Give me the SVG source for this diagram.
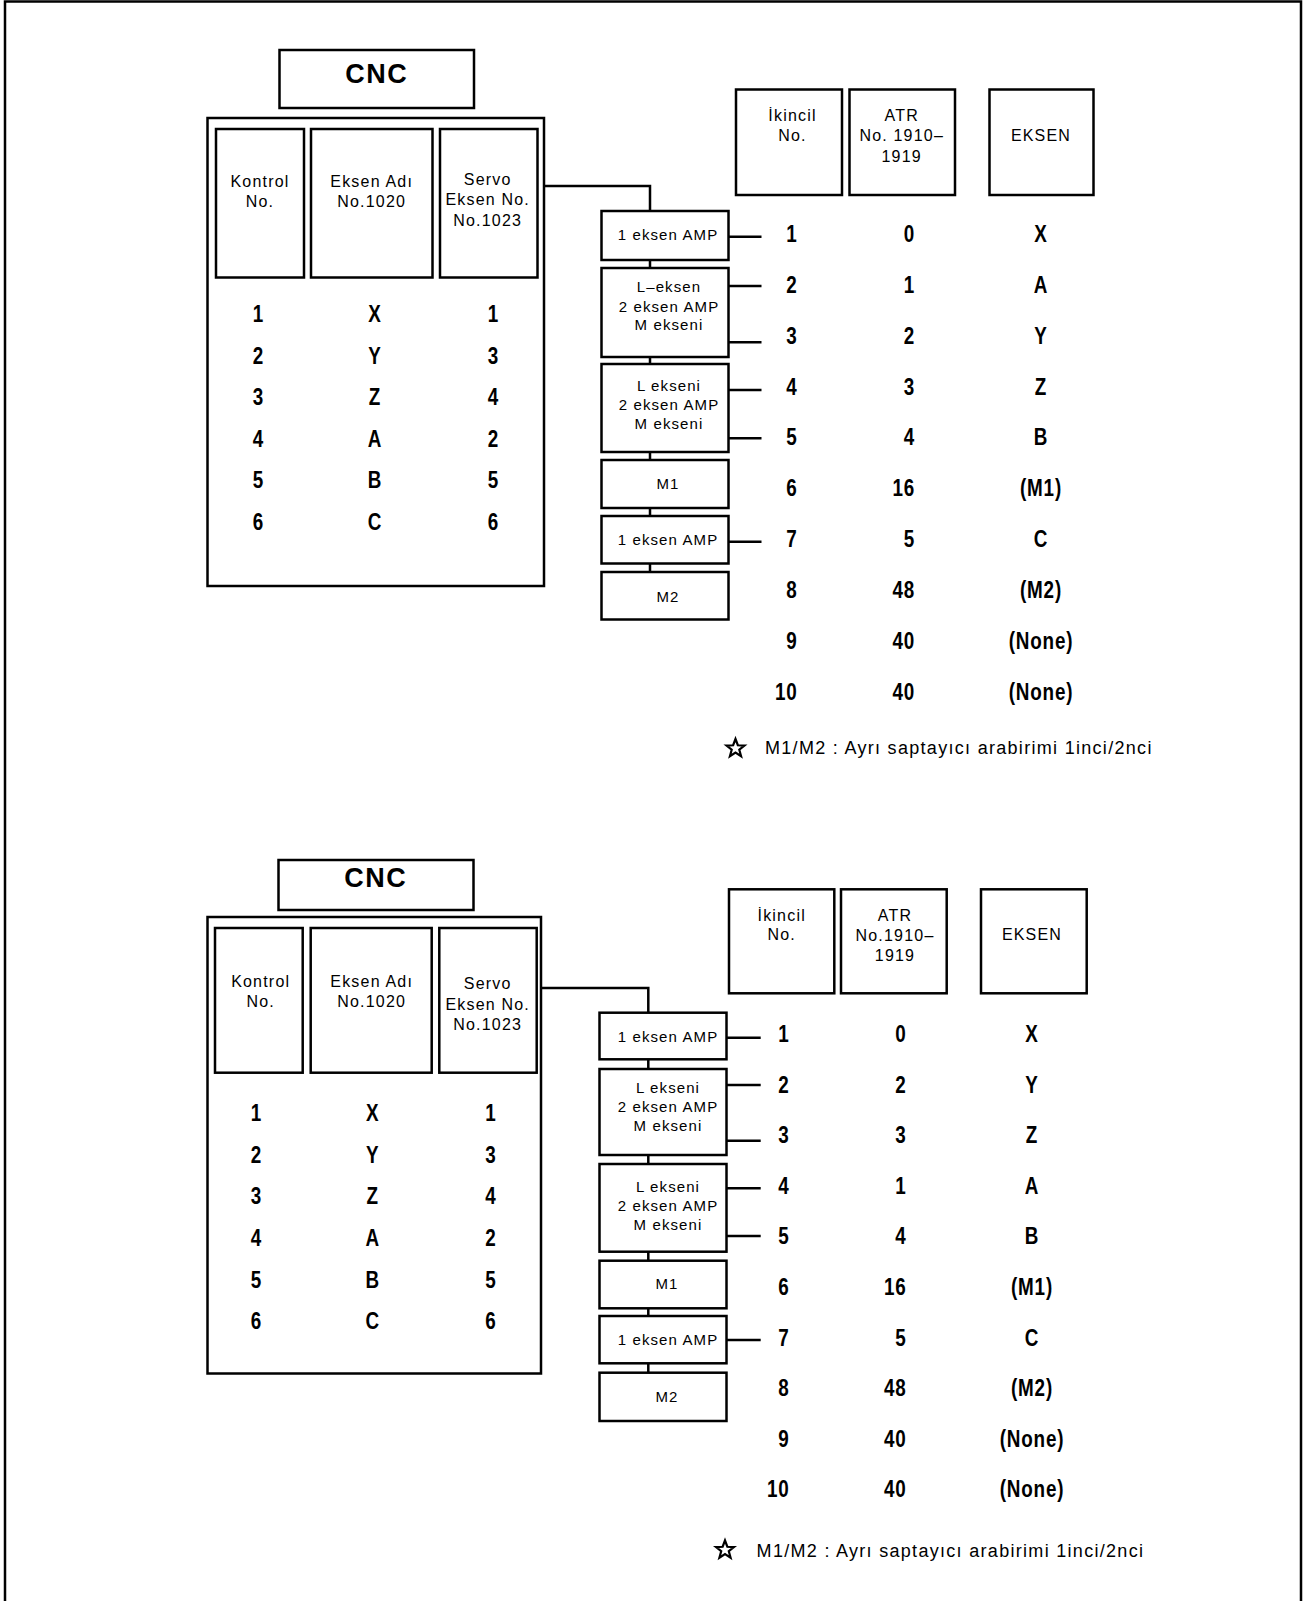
<svg xmlns="http://www.w3.org/2000/svg" xmlns:xlink="http://www.w3.org/1999/xlink" width="1306" height="1601" viewBox="0 0 1306 1601">
  <style>
    .box { fill: #fff; stroke: #000; stroke-width: 2.5; }
    .wire { fill: none; stroke: #000; stroke-width: 2.5; }
    .cnc { font-family: "Liberation Sans", Arial, sans-serif; font-size: 27px; font-weight: bold; letter-spacing: 1.5px; text-anchor: middle; }
    .hdr { font-family: "Liberation Sans", Arial, sans-serif; font-size: 16px; letter-spacing: 1.2px; text-anchor: middle; }
    .amp { font-family: "Liberation Sans", Arial, sans-serif; font-size: 15px; letter-spacing: 1.1px; text-anchor: middle; }
    /* value columns: bold sans, squeezed horizontally by the column transform */
    .val { font-family: "Liberation Sans", Arial, sans-serif; font-size: 23px; font-weight: bold; letter-spacing: 1px; }
    .mid { text-anchor: middle; }
    .end { text-anchor: end; }
    .note { font-family: "Liberation Sans", Arial, sans-serif; font-size: 18px; letter-spacing: 1.3px; }
  </style>
  <defs>
    <polygon id="star" points="0,-9.5 2.35,-3.24 9.04,-2.94 3.8,1.24 5.58,7.69 0,4 -5.58,7.69 -3.8,1.24 -9.04,-2.94 -2.35,-3.24" fill="none" stroke="#000" stroke-width="2.2"/>
  </defs>

  <rect width="1306" height="1601" fill="#fff"/>
  <!-- page frame (open at the bottom) -->
  <path class="wire" d="M5 1601 V1.5 H1301 V1601"/>

  <!-- ===================== upper configuration ===================== -->
  <g id="connectors-top">
    <path class="wire" d="M544 186 H650 V211"/>
    <path class="wire" d="M650 260 V268 M650 357 V364 M650 452 V460 M650 508 V516 M650 563 V572"/>
    <path class="wire" d="M728.5 236.7 H761.5 M728.5 286 H761.5 M728.5 342.3 H761.5 M728.5 390 H761.5 M728.5 438.3 H761.5 M728.5 541.7 H761.5"/>
  </g>

  <g id="cnc-top">
    <rect class="box" x="279.5" y="50" width="194.5" height="58"/>
    <text class="cnc" x="376.7" y="82.5">CNC</text>
  </g>

  <g id="cnc-table-top">
    <rect class="box" x="207.5" y="118" width="336.5" height="468"/>
    <rect class="box" x="216" y="129" width="88" height="148.5"/>
    <rect class="box" x="311" y="129" width="121.5" height="148.5"/>
    <rect class="box" x="440" y="129" width="97.5" height="148.5"/>
    <text class="hdr" x="260" y="186.7">Kontrol</text>
    <text class="hdr" x="260" y="206.7">No.</text>
    <text class="hdr" x="371.7" y="186.7">Eksen Adı</text>
    <text class="hdr" x="371.7" y="206.7">No.1020</text>
    <text class="hdr" x="487.7" y="184.5">Servo</text>
    <text class="hdr" x="487.7" y="205.3">Eksen No.</text>
    <text class="hdr" x="487.7" y="226">No.1023</text>
    <g class="val mid" transform="translate(258.5 0) scale(0.82 1)">
      <text y="322">1</text><text y="363.6">2</text><text y="405.2">3</text>
      <text y="446.8">4</text><text y="488.4">5</text><text y="530">6</text>
    </g>
    <g class="val mid" transform="translate(375 0) scale(0.82 1)">
      <text y="322">X</text><text y="363.6">Y</text><text y="405.2">Z</text>
      <text y="446.8">A</text><text y="488.4">B</text><text y="530">C</text>
    </g>
    <g class="val mid" transform="translate(493.5 0) scale(0.82 1)">
      <text y="322">1</text><text y="363.6">3</text><text y="405.2">4</text>
      <text y="446.8">2</text><text y="488.4">5</text><text y="530">6</text>
    </g>
  </g>

  <g id="amp1-top">
    <rect class="box" x="601.5" y="211" width="127" height="49"/>
    <text class="amp" x="668" y="239.5">1 eksen AMP</text>
  </g>
  <g id="amp2-top">
    <rect class="box" x="601.5" y="268" width="127" height="89"/>
    <text class="amp" x="669" y="292.3">L–eksen</text>
    <text class="amp" x="669" y="311.5">2 eksen AMP</text>
    <text class="amp" x="669" y="330">M ekseni</text>
  </g>
  <g id="amp3-top">
    <rect class="box" x="601.5" y="364" width="127" height="88"/>
    <text class="amp" x="669" y="390.7">L ekseni</text>
    <text class="amp" x="669" y="410">2 eksen AMP</text>
    <text class="amp" x="669" y="428.5">M ekseni</text>
  </g>
  <g id="m1-top">
    <rect class="box" x="601.5" y="460" width="127" height="48"/>
    <text class="amp" x="668" y="488.5">M1</text>
  </g>
  <g id="amp4-top">
    <rect class="box" x="601.5" y="516" width="127" height="47.5"/>
    <text class="amp" x="668" y="544.5">1 eksen AMP</text>
  </g>
  <g id="m2-top">
    <rect class="box" x="601.5" y="572" width="127" height="47.5"/>
    <text class="amp" x="668" y="601.5">M2</text>
  </g>

  <g id="slave-table-top">
    <rect class="box" x="736" y="89.5" width="106" height="105.5"/>
    <rect class="box" x="849.5" y="89.5" width="105.5" height="105.5"/>
    <rect class="box" x="989.5" y="89.5" width="104" height="105.5"/>
    <text class="hdr" x="792.5" y="120.7">İkincil</text>
    <text class="hdr" x="792.5" y="140.7">No.</text>
    <text class="hdr" x="901.7" y="120.7">ATR</text>
    <text class="hdr" x="901.7" y="141">No. 1910–</text>
    <text class="hdr" x="901.7" y="161.5">1919</text>
    <text class="hdr" x="1041" y="141">EKSEN</text>
    <g class="val end" transform="translate(797.5 0) scale(0.82 1)">
      <text y="242">1</text><text y="292.9">2</text><text y="343.7">3</text>
      <text y="394.6">4</text><text y="445.4">5</text><text y="496.3">6</text>
      <text y="547.1">7</text><text y="598">8</text><text y="648.8">9</text>
      <text y="699.7">10</text>
    </g>
    <g class="val end" transform="translate(915 0) scale(0.82 1)">
      <text y="242">0</text><text y="292.9">1</text><text y="343.7">2</text>
      <text y="394.6">3</text><text y="445.4">4</text><text y="496.3">16</text>
      <text y="547.1">5</text><text y="598">48</text><text y="648.8">40</text>
      <text y="699.7">40</text>
    </g>
    <g class="val mid" transform="translate(1041 0) scale(0.82 1)">
      <text y="242">X</text><text y="292.9">A</text><text y="343.7">Y</text>
      <text y="394.6">Z</text><text y="445.4">B</text><text y="496.3">(M1)</text>
      <text y="547.1">C</text><text y="598">(M2)</text><text y="648.8">(None)</text>
      <text y="699.7">(None)</text>
    </g>
  </g>

  <g id="note-top">
    <use xlink:href="#star" x="735.5" y="748.5"/>
    <text class="note" x="765" y="754">M1/M2 : Ayrı saptayıcı arabirimi 1inci/2nci</text>
  </g>

  <!-- ===================== lower configuration ===================== -->
  <g id="connectors-bottom">
    <path class="wire" d="M541 988 H648.3 V1012.7"/>
    <path class="wire" d="M648.3 1059.3 V1069 M648.3 1155 V1164 M648.3 1251.7 V1260.7 M648.3 1308.3 V1316 M648.3 1363.3 V1372.7"/>
    <path class="wire" d="M726.5 1037.7 H760.7 M726.5 1085 H760.7 M726.5 1140.7 H760.7 M726.5 1188.3 H760.7 M726.5 1236 H760.7 M726.5 1340 H760.7"/>
  </g>

  <g id="cnc-bottom">
    <rect class="box" x="278.5" y="860" width="195" height="50"/>
    <text class="cnc" x="375.7" y="887.3">CNC</text>
  </g>

  <g id="cnc-table-bottom">
    <rect class="box" x="207.5" y="917" width="333.5" height="456.5"/>
    <rect class="box" x="215" y="928" width="87.7" height="144.7"/>
    <rect class="box" x="310.7" y="928" width="121" height="144.7"/>
    <rect class="box" x="439.3" y="928" width="97.4" height="144.7"/>
    <text class="hdr" x="260.7" y="986.7">Kontrol</text>
    <text class="hdr" x="260.7" y="1006.7">No.</text>
    <text class="hdr" x="371.7" y="986.7">Eksen Adı</text>
    <text class="hdr" x="371.7" y="1006.7">No.1020</text>
    <text class="hdr" x="487.7" y="989.3">Servo</text>
    <text class="hdr" x="487.7" y="1010">Eksen No.</text>
    <text class="hdr" x="487.7" y="1030">No.1023</text>
    <g class="val mid" transform="translate(256.3 0) scale(0.82 1)">
      <text y="1121">1</text><text y="1162.7">2</text><text y="1204.4">3</text>
      <text y="1246.1">4</text><text y="1287.8">5</text><text y="1329.5">6</text>
    </g>
    <g class="val mid" transform="translate(372.7 0) scale(0.82 1)">
      <text y="1121">X</text><text y="1162.7">Y</text><text y="1204.4">Z</text>
      <text y="1246.1">A</text><text y="1287.8">B</text><text y="1329.5">C</text>
    </g>
    <g class="val mid" transform="translate(491 0) scale(0.82 1)">
      <text y="1121">1</text><text y="1162.7">3</text><text y="1204.4">4</text>
      <text y="1246.1">2</text><text y="1287.8">5</text><text y="1329.5">6</text>
    </g>
  </g>

  <g id="amp1-bottom">
    <rect class="box" x="599.5" y="1012.7" width="127" height="46.6"/>
    <text class="amp" x="668" y="1041.7">1 eksen AMP</text>
  </g>
  <g id="amp2-bottom">
    <rect class="box" x="599.5" y="1069" width="127" height="86"/>
    <text class="amp" x="668" y="1093.3">L ekseni</text>
    <text class="amp" x="668" y="1112.3">2 eksen AMP</text>
    <text class="amp" x="668" y="1130.7">M ekseni</text>
  </g>
  <g id="amp3-bottom">
    <rect class="box" x="599.5" y="1164" width="127" height="87.7"/>
    <text class="amp" x="668" y="1191.7">L ekseni</text>
    <text class="amp" x="668" y="1211">2 eksen AMP</text>
    <text class="amp" x="668" y="1230">M ekseni</text>
  </g>
  <g id="m1-bottom">
    <rect class="box" x="599.5" y="1260.7" width="127" height="47.6"/>
    <text class="amp" x="667" y="1289.3">M1</text>
  </g>
  <g id="amp4-bottom">
    <rect class="box" x="599.5" y="1316" width="127" height="47.3"/>
    <text class="amp" x="668" y="1345">1 eksen AMP</text>
  </g>
  <g id="m2-bottom">
    <rect class="box" x="599.5" y="1372.7" width="127" height="48.3"/>
    <text class="amp" x="667" y="1401.7">M2</text>
  </g>

  <g id="slave-table-bottom">
    <rect class="box" x="729" y="889.3" width="105.3" height="104"/>
    <rect class="box" x="841" y="889.3" width="105.7" height="104"/>
    <rect class="box" x="981" y="889.3" width="105.7" height="104"/>
    <text class="hdr" x="781.7" y="920.7">İkincil</text>
    <text class="hdr" x="781.7" y="940">No.</text>
    <text class="hdr" x="895" y="920.7">ATR</text>
    <text class="hdr" x="895" y="940.7">No.1910–</text>
    <text class="hdr" x="895" y="960.7">1919</text>
    <text class="hdr" x="1032" y="940">EKSEN</text>
    <g class="val end" transform="translate(789.5 0) scale(0.82 1)">
      <text y="1042">1</text><text y="1092.6">2</text><text y="1143.2">3</text>
      <text y="1193.8">4</text><text y="1244.4">5</text><text y="1295">6</text>
      <text y="1345.6">7</text><text y="1396.2">8</text><text y="1446.8">9</text>
      <text y="1497.4">10</text>
    </g>
    <g class="val end" transform="translate(906.5 0) scale(0.82 1)">
      <text y="1042">0</text><text y="1092.6">2</text><text y="1143.2">3</text>
      <text y="1193.8">1</text><text y="1244.4">4</text><text y="1295">16</text>
      <text y="1345.6">5</text><text y="1396.2">48</text><text y="1446.8">40</text>
      <text y="1497.4">40</text>
    </g>
    <g class="val mid" transform="translate(1032 0) scale(0.82 1)">
      <text y="1042">X</text><text y="1092.6">Y</text><text y="1143.2">Z</text>
      <text y="1193.8">A</text><text y="1244.4">B</text><text y="1295">(M1)</text>
      <text y="1345.6">C</text><text y="1396.2">(M2)</text><text y="1446.8">(None)</text>
      <text y="1497.4">(None)</text>
    </g>
  </g>

  <g id="note-bottom">
    <use xlink:href="#star" x="725" y="1550"/>
    <text class="note" x="756.6" y="1557">M1/M2 : Ayrı saptayıcı arabirimi 1inci/2nci</text>
  </g>
</svg>
